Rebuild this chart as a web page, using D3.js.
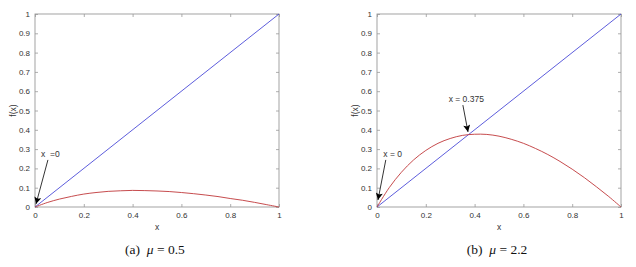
<!DOCTYPE html>
<html>
<head>
<meta charset="utf-8">
<script src="https://cdn.jsdelivr.net/npm/d3@7"></script>
<style>
	body { margin: 0; background: #fff; }
	.tick text { font-family: "Liberation Sans", Arial, sans-serif; font-size: 8px; fill: #333; }
	.lbl { font-family: "Liberation Sans", Arial, sans-serif; font-size: 8.5px; fill: #333; white-space: pre; }
	.cap { font-family: "Liberation Serif", "Times New Roman", serif; font-size: 13.5px; fill: #111; white-space: pre; }
</style>
</head>
<body>
<div id="chart"></div>
<script>
// values
var xs = [0, 0.05, 0.1, 0.15, 0.2, 0.25, 0.3, 0.35, 0.4, 0.45, 0.5,
	0.55, 0.6, 0.65, 0.7, 0.75, 0.8, 0.85, 0.9, 0.95, 1];
var fA = [0, 0.023, 0.041, 0.055, 0.067, 0.075, 0.081, 0.084, 0.086, 0.085, 0.083,
	0.080, 0.075, 0.069, 0.062, 0.054, 0.044, 0.035, 0.024, 0.012, 0];
var fB = [0, 0.100, 0.180, 0.244, 0.293, 0.330, 0.355, 0.371, 0.377, 0.376, 0.367,
	0.351, 0.330, 0.303, 0.272, 0.236, 0.196, 0.152, 0.104, 0.054, 0];
var diag = [0, 1];
var xTicks = [0, 0.2, 0.4, 0.6, 0.8, 1];
var yTicks = [0, 0.1, 0.2, 0.3, 0.4, 0.5, 0.6, 0.7, 0.8, 0.9, 1];

// annotations (data units): text pos, arrow start, arrow tip
var notesA = [{ label: "x  =0", tx: 0.063, ty: 0.259, sx: 0.053, sy: 0.244, ex: 0.004, ey: 0.015 }];
var notesB = [
	{ label: "x = 0", tx: 0.064, ty: 0.259, sx: 0.036, sy: 0.244, ex: 0.004, ey: 0.036 },
	{ label: "x = 0.375", tx: 0.366, ty: 0.544, sx: 0.352, sy: 0.528, ex: 0.373, ey: 0.389 }
];

var width = 636, height = 267;
var svg = d3.select("#chart").append("svg")
	.attr("width", width)
	.attr("height", height);

var defs = svg.append("defs");
defs.append("marker")
	.attr("id", "head")
	.attr("viewBox", "0 0 10 10")
	.attr("refX", 10).attr("refY", 5)
	.attr("markerWidth", 8).attr("markerHeight", 7)
	.attr("markerUnits", "userSpaceOnUse")
	.attr("orient", "auto")
	.append("path")
	.attr("d", "M0,0 L10,5 L0,10 L2,5 Z")
	.attr("fill", "#000");

function panel(left, right, fy, notes, caption, mu) {
	var top = 14, bottom = 207;
	var x = d3.scaleLinear().domain([0, 1]).range([left, right]);
	var y = d3.scaleLinear().domain([0, 1]).range([bottom, top]);
	var g = svg.append("g");

	var ax = g.append("g").attr("transform", "translate(0," + bottom + ")")
		.call(d3.axisBottom(x).tickValues(xTicks).tickFormat(d3.format("")).tickSizeInner(-3).tickSizeOuter(0).tickPadding(5));
	var ay = g.append("g").attr("transform", "translate(" + left + ",0)")
		.call(d3.axisLeft(y).tickValues(yTicks).tickFormat(d3.format("")).tickSizeInner(-3).tickSizeOuter(0).tickPadding(5));
	var axT = g.append("g").attr("transform", "translate(0," + top + ")")
		.call(d3.axisTop(x).tickValues(xTicks).tickFormat("").tickSizeInner(-3).tickSizeOuter(0));
	var ayR = g.append("g").attr("transform", "translate(" + right + ",0)")
		.call(d3.axisRight(y).tickValues(yTicks).tickFormat("").tickSizeInner(-3).tickSizeOuter(0));
	[ax, ay, axT, ayR].forEach(function(a) {
		a.select(".domain").remove();
		a.selectAll("line").attr("stroke", "#999").attr("stroke-width", 0.8);
	});
	g.append("rect")
		.attr("x", left).attr("y", top)
		.attr("width", right - left).attr("height", bottom - top)
		.attr("fill", "none").attr("stroke", "#999").attr("stroke-width", 0.9);

	g.append("text").attr("class", "lbl")
		.attr("x", (left + right) / 2).attr("y", 230)
		.attr("text-anchor", "middle").text("x");
	g.append("text").attr("class", "lbl")
		.attr("transform", "translate(" + (left - 19) + "," + ((top + bottom) / 2) + ") rotate(-90)")
		.attr("text-anchor", "middle").text("f(x)");

	var line = d3.line()
		.x(function(d) { return x(d[0]); })
		.y(function(d) { return y(d[1]); });

	g.append("path")
		.datum(diag.map(function(v) { return [v, v]; }))
		.attr("d", line)
		.attr("fill", "none").attr("stroke", "#4b4bd8").attr("stroke-width", 0.9);

	g.append("path")
		.datum(xs.map(function(v, i) { return [v, fy[i]]; }))
		.attr("d", line.curve(d3.curveCatmullRom))
		.attr("fill", "none").attr("stroke", "#c0383a").attr("stroke-width", 0.9);

	notes.forEach(function(n) {
		g.append("text").attr("class", "lbl")
			.attr("x", x(n.tx)).attr("y", y(n.ty))
			.attr("text-anchor", "middle").text(n.label);
		g.append("line")
			.attr("x1", x(n.sx)).attr("y1", y(n.sy))
			.attr("x2", x(n.ex)).attr("y2", y(n.ey))
			.attr("stroke", "#000").attr("stroke-width", 0.8)
			.attr("marker-end", "url(#head)");
	});

	var cap = g.append("text").attr("class", "cap")
		.attr("x", (left + right) / 2 - 2).attr("y", 254)
		.attr("text-anchor", "middle");
	cap.append("tspan").text(caption + "  ");
	cap.append("tspan").attr("font-style", "italic").text("\u03bc");
	cap.append("tspan").text(" = " + mu);
}

panel(35, 279, fA, notesA, "(a)", "0.5");
panel(377, 621, fB, notesB, "(b)", "2.2");
</script>
</body>
</html>
